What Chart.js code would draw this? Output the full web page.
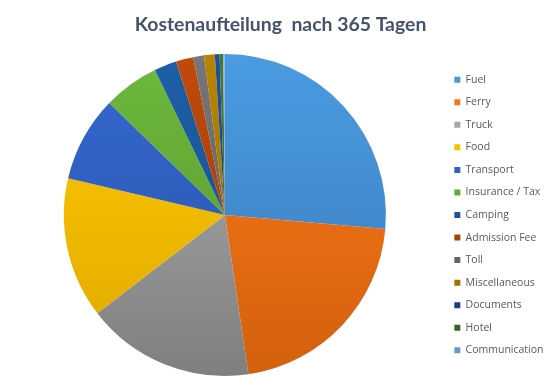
<!DOCTYPE html>
<html>
<head>
<meta charset="utf-8">
<script src="https://cdn.jsdelivr.net/npm/chart.js@4/dist/chart.umd.min.js"></script>
<style>
  html, body { margin: 0; padding: 0; background: #fff; }
  #wrap { width: 557px; height: 390px; }
</style>
</head>
<body>
<div id="wrap"><canvas id="cost-chart" width="557" height="390"></canvas></div>
<script>
const categories = ['Fuel', 'Ferry', 'Truck', 'Food', 'Transport', 'Insurance / Tax', 'Camping',
  'Admission Fee', 'Toll', 'Miscellaneous', 'Documents', 'Hotel', 'Communication'];
// share of total cost in percent
const shares = [26.4, 21.3, 16.9, 14.1, 8.6, 5.6, 2.25, 1.75, 1.08, 1.08, 0.47, 0.36, 0.17];

// top / bottom colour of each slice (Excel style gradient)
const topColors = ['#4a9be0', '#ff7a1a', '#b0b0b0', '#ffcb00', '#3468d0', '#6db83c', '#1e5fa8',
  '#c04a0a', '#777777', '#b88400', '#1f4f9e', '#4a7a2a', '#7db3e8'];
const bottomColors = ['#3a7bbe', '#d2600e', '#7f7f7f', '#e0a800', '#2a55a8', '#56962e', '#184c88',
  '#9a3a08', '#5a5a5a', '#946a00', '#183c78', '#3a6020', '#6598c8'];

function sliceFill(context) {
  const i = context.dataIndex;
  const area = context.chart.chartArea;
  if (!area) return topColors[i];
  const g = context.chart.ctx.createLinearGradient(0, area.top, 0, area.bottom);
  g.addColorStop(0, topColors[i]);
  g.addColorStop(1, bottomColors[i]);
  return g;
}

const ctx = document.getElementById('cost-chart').getContext('2d');
const chart = new Chart(ctx, {
  type: 'pie',
  data: {
    labels: categories,
    datasets: [{
      data: shares,
      backgroundColor: sliceFill,
      borderWidth: 0,
    }],
  },
  options: {
    responsive: false,
    animation: false,
    layout: { padding: { left: 7.5, right: 3.5, top: 0, bottom: 14 } },
    plugins: {
      title: {
        display: true,
        text: 'Kostenaufteilung  nach 365 Tagen',
        color: '#44546a',
        font: { family: 'Lato', size: 19.4, weight: 'bold', lineHeight: 1.2 },
        padding: { top: 13, bottom: 17.7 },
      },
      legend: {
        position: 'right',
        fullSize: false,
        labels: {
          boxWidth: 6,
          boxHeight: 6,
          padding: 12.05,
          color: '#595959',
          font: { family: 'Open Sans', size: 10.5 },
        },
      },
      tooltip: { enabled: false },
    },
  },
});
</script>
</body>
</html>
